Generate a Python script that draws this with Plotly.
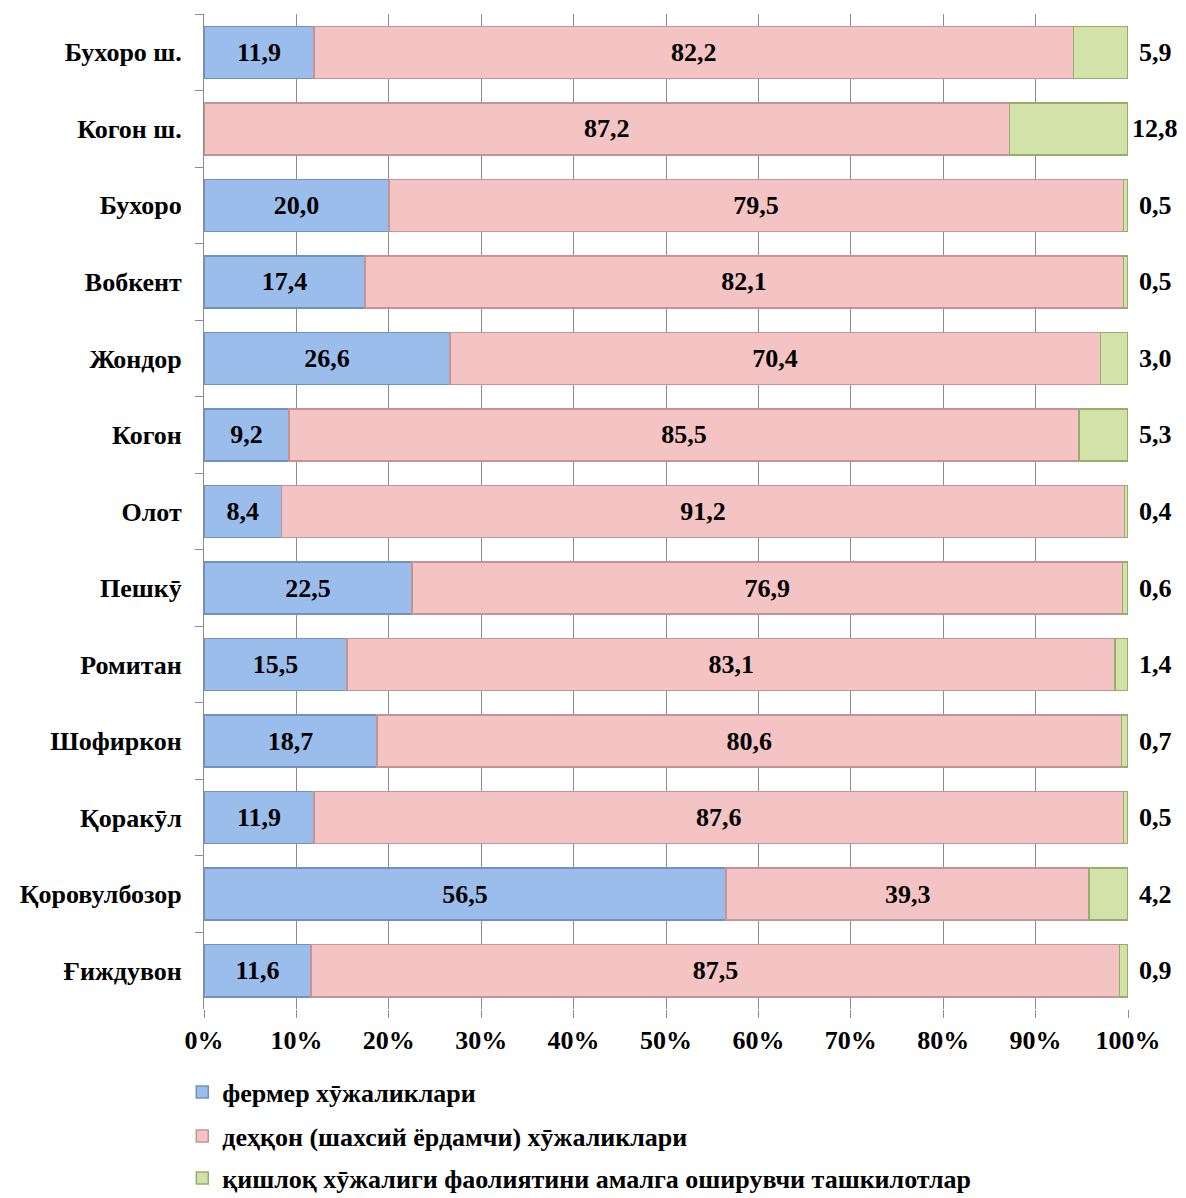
import plotly.graph_objects as go

categories = ["Бухоро ш.", "Когон ш.", "Бухоро", "Вобкент", "Жондор", "Когон", "Олот",
              "Пешкӯ", "Ромитан", "Шофиркон", "Қоракӯл", "Қоровулбозор", "Ғиждувон"]
fermer = [11.9, 0.0, 20.0, 17.4, 26.6, 9.2, 8.4, 22.5, 15.5, 18.7, 11.9, 56.5, 11.6]
dehqon = [82.2, 87.2, 79.5, 82.1, 70.4, 85.5, 91.2, 76.9, 83.1, 80.6, 87.6, 39.3, 87.5]
tashkilot = [5.9, 12.8, 0.5, 0.5, 3.0, 5.3, 0.4, 0.6, 1.4, 0.7, 0.5, 4.2, 0.9]
series_names = ["фермер хӯжаликлари",
                "деҳқон (шахсий ёрдамчи) хӯжаликлари",
                "қишлоқ хӯжалиги фаолиятини амалга оширувчи ташкилотлар"]
tick_vals = [0, 10, 20, 30, 40, 50, 60, 70, 80, 90, 100]
tick_text = [f"{v}%" for v in tick_vals]

FONT = "Liberation Serif, Times New Roman, serif"
FS = 26

def fmt(v):
    return "" if v == 0 else f"{v:.1f}".replace(".", ",")

fills = ["#9bbdec", "#f4c3c3", "#d3e2a8"]
edges = ["#7391bd", "#c39494", "#98ad6c"]
series = [fermer, dehqon, tashkilot]
legends = ["legend", "legend2", "legend3"]

fig = go.Figure()
for i, (vals, name) in enumerate(zip(series, series_names)):
    fig.add_trace(go.Bar(
        y=categories, x=vals, orientation="h", name=name,
        marker=dict(color=fills[i], line=dict(color=edges[i], width=1.5)),
        text=[fmt(v) for v in vals] if i < 2 else None,
        textposition="inside" if i < 2 else "none",
        insidetextanchor="middle", textangle=0,
        textfont=dict(family=FONT, size=FS, color="black", weight="bold"),
        legend=legends[i], showlegend=True,
    ))

for c, v in zip(categories, tashkilot):
    fig.add_annotation(x=100, y=c, xref="x", yref="y", text=f"<b>{fmt(v)}</b>",
                       showarrow=False, xanchor="center", xshift=27,
                       font=dict(family=FONT, size=FS, color="black"))

# page has 8px body margin; compensate
W, H = 1178, 1190
L, R, T, B = 196, 58, 6, 189
plot_h = H - T - B

def ly(px):  # page pixel y -> paper coordinate
    return (H - B + 8 - px) / plot_h

leg_common = dict(xanchor="left", yanchor="middle", x=-0.0235,
                  font=dict(family=FONT, size=FS, color="black", weight="bold"),
                  bgcolor="rgba(0,0,0,0)", itemwidth=30)
fig.update_layout(
    barmode="stack", bargap=0.32,
    width=W, height=H,
    margin=dict(l=L, r=R, t=T, b=B, autoexpand=False),
    plot_bgcolor="white", paper_bgcolor="white",
    separators=", ",
    font=dict(family=FONT, size=FS, color="black"),
    legend=dict(y=ly(1092), **leg_common),
    legend2=dict(y=ly(1136), **leg_common),
    legend3=dict(y=ly(1178), **leg_common),
    xaxis=dict(range=[0, 100], tickvals=tick_vals, ticktext=tick_text,
               showgrid=True, gridcolor="#8c8c8c", gridwidth=1,
               ticks="outside", ticklen=8, tickcolor="#8c8c8c",
               showline=False, zeroline=False, ticklabelstandoff=0,
               tickfont=dict(family=FONT, size=FS, color="black", weight="bold")),
    yaxis=dict(autorange="reversed", showline=True, linecolor="#8c8c8c", linewidth=1,
               ticks="outside", ticklen=8, tickcolor="#8c8c8c", tickson="boundaries",
               showgrid=False, ticklabelstandoff=16,
               tickfont=dict(family=FONT, size=FS, color="black", weight="bold")),
)

fig.write_html("out.html")
